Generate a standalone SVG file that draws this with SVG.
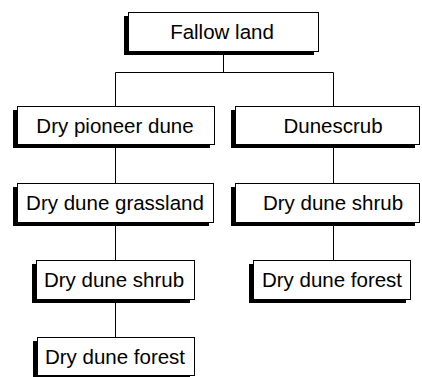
<svg xmlns="http://www.w3.org/2000/svg" width="422" height="377" viewBox="0 0 422 377">
<style>
.sh{fill:#000}
.bx{fill:#fff;stroke:#000;stroke-width:1}
.t{font-family:"Liberation Sans",Arial,sans-serif;font-size:20.5px;fill:#000;text-anchor:middle}
.c{fill:none;stroke:#000;stroke-width:1}
</style>
<rect width="422" height="377" fill="#fff"/>
<g id="connectors">
<path class="c" d="M223.5 51V72.5M115.5 72.5H333.5M115.5 72.5V106M333.5 72.5V106M115.5 144V183M333.5 144V183M115.5 222V260M333.5 222V260M115.5 299V337"/>
</g>
<g id="fallow">
<rect class="sh" x="124" y="16" width="190" height="39"/>
<rect class="bx" x="128.5" y="12.5" width="190" height="39"/>
<text class="t" x="222" y="39">Fallow land</text>
</g>
<g id="pioneer">
<rect class="sh" x="13" y="110" width="197" height="38"/>
<rect class="bx" x="17.5" y="106.5" width="197" height="38"/>
<text class="t" x="115" y="133">Dry pioneer dune</text>
</g>
<g id="dunescrub">
<rect class="sh" x="231" y="110" width="184" height="38"/>
<rect class="bx" x="235.5" y="106.5" width="184" height="38"/>
<text class="t" x="333" y="133">Dunescrub</text>
</g>
<g id="grassland">
<rect class="sh" x="13" y="187" width="196" height="39"/>
<rect class="bx" x="17.5" y="183.5" width="196" height="39"/>
<text class="t" x="115" y="210">Dry dune grassland</text>
</g>
<g id="shrubR">
<rect class="sh" x="231" y="187" width="184" height="39"/>
<rect class="bx" x="235.5" y="183.5" width="184" height="39"/>
<text class="t" x="333" y="210">Dry dune shrub</text>
</g>
<g id="shrubL">
<rect class="sh" x="32" y="264" width="158" height="39"/>
<rect class="bx" x="36.5" y="260.5" width="158" height="39"/>
<text class="t" x="114" y="287">Dry dune shrub</text>
</g>
<g id="forestR">
<rect class="sh" x="249" y="264" width="157" height="39"/>
<rect class="bx" x="253.5" y="260.5" width="157" height="39"/>
<text class="t" x="332" y="287">Dry dune forest</text>
</g>
<g id="forestL">
<rect class="sh" x="33" y="341" width="157" height="38"/>
<rect class="bx" x="37.5" y="337.5" width="157" height="38"/>
<text class="t" x="115" y="364">Dry dune forest</text>
</g>
</svg>
